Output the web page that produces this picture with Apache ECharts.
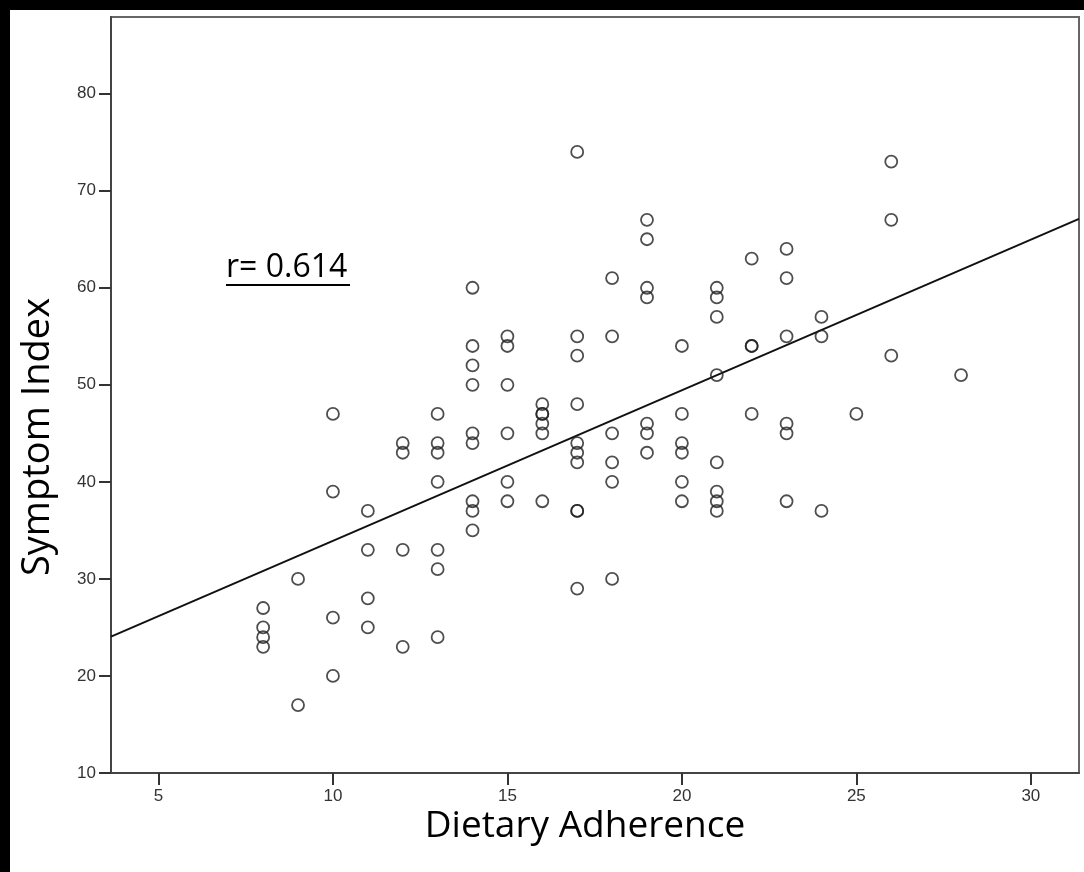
<!DOCTYPE html>
<html>
<head>
<meta charset="utf-8">
<script src="https://cdn.jsdelivr.net/npm/echarts@6/dist/echarts.min.js"></script>
<style>
  html, body { margin: 0; padding: 0; background: #000; width: 1084px; height: 872px; overflow: hidden; }
  #paper { position: absolute; left: 10px; top: 10px; width: 1074px; height: 862px; background: #fff; }
  #chart { position: absolute; left: 0; top: 0; width: 1084px; height: 872px; }
</style>
</head>
<body>
<div id="paper"></div>
<div id="chart"></div>
<script>
// Dietary Adherence (x) and Symptom Index (y), one entry per subject
var adherence = [
  8, 8, 8, 8,
  9, 9,
  10, 10, 10, 10,
  11, 11, 11, 11,
  12, 12, 12, 12,
  13, 13, 13, 13, 13, 13, 13,
  14, 14, 14, 14, 14, 14, 14, 14, 14,
  15, 15, 15, 15, 15, 15,
  16, 16, 16, 16, 16, 16,
  17, 17, 17, 17, 17, 17, 17, 17, 17, 17,
  18, 18, 18, 18, 18, 18,
  19, 19, 19, 19, 19, 19, 19,
  20, 20, 20, 20, 20, 20,
  21, 21, 21, 21, 21, 21, 21, 21,
  22, 22, 22, 22,
  23, 23, 23, 23, 23, 23,
  24, 24, 24,
  25,
  26, 26, 26,
  28
];
var symptom = [
  27, 25, 24, 23,
  30, 17,
  47, 39, 26, 20,
  37, 33, 28, 25,
  44, 43, 33, 23,
  47, 44, 43, 40, 33, 31, 24,
  60, 54, 52, 50, 45, 44, 38, 37, 35,
  55, 54, 50, 45, 40, 38,
  48, 47, 47, 46, 45, 38,
  74, 55, 53, 48, 44, 43, 42, 37, 37, 29,
  61, 55, 45, 42, 40, 30,
  67, 65, 60, 59, 46, 45, 43,
  54, 47, 44, 43, 40, 38,
  60, 59, 57, 51, 42, 39, 38, 37,
  63, 54, 54, 47,
  64, 61, 55, 46, 45, 38,
  57, 55, 37,
  47,
  73, 67, 53,
  51
];
// Fit line end points
var fitX = [3.64, 31.38];
var fitY = [24.05, 67.1];
var xTicks = [5, 10, 15, 20, 25, 30];
var yTicks = [10, 20, 30, 40, 50, 60, 70, 80];
var xRange = [3.64, 31.38];
var yRange = [10, 87.9];

var scatterData = adherence.map(function (x, i) { return [x, symptom[i]]; });
var fitData = fitX.map(function (x, i) { return [x, fitY[i]]; });

var chart = echarts.init(document.getElementById('chart'), null, { renderer: 'canvas' });
var labelStyle = { color: '#333', fontSize: 17, fontFamily: 'Liberation Sans, Arial, sans-serif' };
chart.setOption({
  animation: false,
  backgroundColor: 'transparent',
  grid: { left: 111, top: 17, right: 5, bottom: 99, show: true, borderColor: '#666', borderWidth: 2, backgroundColor: 'transparent' },
  xAxis: {
    type: 'value', min: xRange[0], max: xRange[1],
    axisLine: { show: true, lineStyle: { color: '#444', width: 2 } },
    axisTick: { show: true, customValues: xTicks, length: 12, lineStyle: { color: '#333', width: 2 } },
    axisLabel: Object.assign({ customValues: xTicks, margin: 15 }, labelStyle),
    splitLine: { show: false }
  },
  yAxis: {
    type: 'value', min: yRange[0], max: yRange[1],
    axisLine: { show: true, lineStyle: { color: '#444', width: 2 } },
    axisTick: { show: true, customValues: yTicks, length: 12, lineStyle: { color: '#333', width: 2 } },
    axisLabel: Object.assign({ customValues: yTicks, margin: 15 }, labelStyle),
    splitLine: { show: false }
  },
  series: [
    {
      type: 'scatter',
      data: scatterData,
      symbol: 'circle',
      symbolSize: 12,
      itemStyle: { color: 'rgba(0,0,0,0)', borderColor: '#222', borderWidth: 1.8 },
      silent: true,
      z: 3
    },
    {
      type: 'line',
      data: fitData,
      showSymbol: false,
      symbol: 'none',
      lineStyle: { color: '#111', width: 2 },
      silent: true,
      z: 2
    }
  ],
  graphic: [
    {
      type: 'text',
      x: 585, y: 826,
      style: { text: 'Dietary Adherence', fill: '#000', font: '37px "Open Sans", sans-serif', align: 'center', verticalAlign: 'middle' }
    },
    {
      type: 'text',
      x: 38, y: 437, rotation: Math.PI / 2,
      style: { text: 'Symptom Index', fill: '#000', font: '38px "Open Sans", sans-serif', align: 'center', verticalAlign: 'middle' }
    },
    {
      type: 'text',
      x: 226, y: 268,
      style: { text: 'r= 0.614', fill: '#000', font: '32px "Open Sans", sans-serif', align: 'left', verticalAlign: 'middle' }
    },
    {
      type: 'line',
      shape: { x1: 226, y1: 285, x2: 350, y2: 285 },
      style: { stroke: '#000', lineWidth: 2 }
    }
  ]
});
</script>
</body>
</html>
